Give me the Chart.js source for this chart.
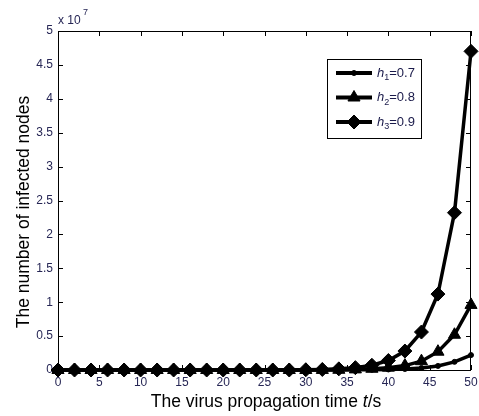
<!DOCTYPE html>
<html>
<head>
<meta charset="utf-8">
<script src="https://cdn.jsdelivr.net/npm/chart.js@4.4.0/dist/chart.umd.min.js"></script>
<style>
  html, body { margin: 0; padding: 0; background: #fff; }
  #wrap { width: 479px; height: 416px; }
</style>
</head>
<body>
<div id="wrap"><canvas id="chart" width="479" height="416"></canvas></div>
<script>
// time points t (s)
const times = [0, 2, 4, 6, 8, 10, 12, 14, 16, 18, 20, 22, 24, 26, 28, 30, 32, 34, 36, 38, 40, 42, 44, 46, 48, 50];
// infected nodes, units of 1e7
const h1Values = [0, 0, 0, 0, 0, 0, 0, 0, 0, 0, 0, 0, 0, 0, 0, 0, 0, 0.001, 0.002, 0.004, 0.008, 0.015, 0.03, 0.06, 0.12, 0.22];
const h2Values = [0, 0, 0, 0, 0, 0, 0, 0, 0, 0, 0, 0, 0, 0, 0, 0, 0.001, 0.003, 0.009, 0.018, 0.035, 0.065, 0.13, 0.27, 0.52, 0.96];
const h3Values = [0, 0, 0, 0, 0, 0, 0, 0, 0, 0, 0, 0, 0, 0, 0, 0.004, 0.008, 0.017, 0.035, 0.07, 0.14, 0.28, 0.56, 1.12, 2.32, 4.7];
const xTicks = [0, 5, 10, 15, 20, 25, 30, 35, 40, 45, 50];
const yTicks = [0, 0.5, 1, 1.5, 2, 2.5, 3, 3.5, 4, 4.5, 5];
const legendLabels = [['h', '1', '=0.7'], ['h', '2', '=0.8'], ['h', '3', '=0.9']];

const tickColor = '#262655';
const fam = '"Liberation Sans", Arial, sans-serif';

function pts(vals) {
  return times.map((t, i) => ({ x: t, y: vals[i] }));
}

const matlabFrame = {
  id: 'matlabFrame',
  afterDatasetsDraw(chart) {
    const ctx = chart.ctx;
    const a = chart.chartArea;
    const xs = chart.scales.x, ys = chart.scales.y;
    ctx.save();
    ctx.strokeStyle = '#000';
    ctx.lineWidth = 1;
    ctx.beginPath();
    xTicks.forEach(v => {
      const px = Math.round(xs.getPixelForValue(v)) + 0.5;
      ctx.moveTo(px, a.bottom); ctx.lineTo(px, a.bottom - 5);
      ctx.moveTo(px, a.top); ctx.lineTo(px, a.top + 5);
    });
    yTicks.forEach(v => {
      const py = Math.round(ys.getPixelForValue(v)) + 0.5;
      ctx.moveTo(a.left, py); ctx.lineTo(a.left + 5, py);
      ctx.moveTo(a.right, py); ctx.lineTo(a.right - 5, py);
    });
    ctx.stroke();
    ctx.strokeRect(Math.round(a.left) + 0.5, Math.round(a.top) + 0.5,
      Math.round(a.right - a.left) - 1, Math.round(a.bottom - a.top));

    // exponent label
    ctx.fillStyle = tickColor;
    ctx.font = '12px ' + fam;
    ctx.textBaseline = 'alphabetic';
    ctx.textAlign = 'left';
    ctx.fillText('x 10', a.left, 24);
    ctx.font = '9px ' + fam;
    ctx.fillText('7', a.left + 25, 15);

    // axis titles
    const tf = '17.5px ' + fam;
    ctx.fillStyle = '#000';
    const p1 = 'The virus propagation time ';
    ctx.font = tf;
    const w1 = ctx.measureText(p1).width;
    ctx.font = 'italic ' + tf;
    const w2 = ctx.measureText('t').width;
    ctx.font = tf;
    const w3 = ctx.measureText('/s').width;
    const x0 = 266 - (w1 + w2 + w3) / 2;
    ctx.fillText(p1, x0, 407);
    ctx.font = 'italic ' + tf;
    ctx.fillText('t', x0 + w1, 407);
    ctx.font = tf;
    ctx.fillText('/s', x0 + w1 + w2, 407);

    ctx.save();
    ctx.translate(29, 212);
    ctx.rotate(-Math.PI / 2);
    ctx.textAlign = 'center';
    ctx.fillText('The number of infected nodes', 0, 0);
    ctx.restore();

    // legend
    const lx = 327, ly = 59, lw = 94, lh = 79;
    ctx.fillStyle = '#fff';
    ctx.fillRect(lx, ly, lw, lh);
    ctx.strokeStyle = '#000';
    ctx.lineWidth = 1;
    ctx.strokeRect(lx + 0.5, ly + 0.5, lw, lh);
    const order = [2, 1, 0]; // dataset index for h1, h2, h3
    legendLabels.forEach((lab, i) => {
      const ds = chart.data.datasets[order[i]];
      const y = 73 + i * 24.5;
      ctx.strokeStyle = '#000';
      ctx.lineWidth = 4;
      ctx.beginPath();
      ctx.moveTo(336, y); ctx.lineTo(372, y);
      ctx.stroke();
      ctx.fillStyle = '#000';
      ctx.lineWidth = 1;
      Chart.helpers.drawPoint(ctx, {
        pointStyle: ds.pointStyle, radius: ds.pointRadius, rotation: 0, borderWidth: 1
      }, 354, y);
      ctx.fillStyle = '#1a1a4a';
      ctx.font = 'italic 13px ' + fam;
      ctx.textBaseline = 'middle';
      ctx.textAlign = 'left';
      ctx.fillText(lab[0], 377, y);
      const hw = ctx.measureText(lab[0]).width;
      ctx.font = '9px ' + fam;
      ctx.fillText(lab[1], 377 + hw, y + 5);
      const sw = ctx.measureText(lab[1]).width;
      ctx.font = '13px ' + fam;
      ctx.fillText(lab[2], 377 + hw + sw, y);
    });
    ctx.restore();
  }
};

function series(vals, style, r) {
  return {
    data: pts(vals),
    borderColor: '#000',
    backgroundColor: '#000',
    borderWidth: 3.5,
    pointStyle: style,
    pointRadius: r,
    pointBackgroundColor: '#000',
    pointBorderColor: '#000',
    pointBorderWidth: 1,
    tension: 0,
    clip: false
  };
}

new Chart(document.getElementById('chart').getContext('2d'), {
  type: 'line',
  data: {
    datasets: [
      series(h3Values, 'rectRot', 7),
      series(h2Values, 'triangle', 7),
      series(h1Values, 'circle', 2.5)
    ]
  },
  options: {
    responsive: false,
    animation: false,
    layout: { padding: { top: 31, right: 3, left: 0, bottom: 0 } },
    plugins: { legend: { display: false }, tooltip: { enabled: false } },
    scales: {
      x: {
        type: 'linear', min: 0, max: 50,
        afterBuildTicks: s => { s.ticks = xTicks.map(v => ({ value: v })); },
        afterFit: s => { s.height = 46; s.paddingLeft = 0; s.paddingRight = 0; },
        grid: { display: false, drawTicks: false },
        border: { display: false },
        ticks: { color: tickColor, padding: 5, maxRotation: 0,
          callback: v => String(v),
          font: { family: fam, size: 12 } }
      },
      y: {
        type: 'linear', min: 0, max: 5,
        afterBuildTicks: s => { s.ticks = yTicks.map(v => ({ value: v })); },
        afterFit: s => { s.width = 58; s.paddingTop = 0; s.paddingBottom = 0; },
        grid: { display: false, drawTicks: false },
        border: { display: false },
        ticks: { color: tickColor, padding: 5,
          callback: v => String(v),
          font: { family: fam, size: 12 } }
      }
    }
  },
  plugins: [matlabFrame]
});
</script>
</body>
</html>
